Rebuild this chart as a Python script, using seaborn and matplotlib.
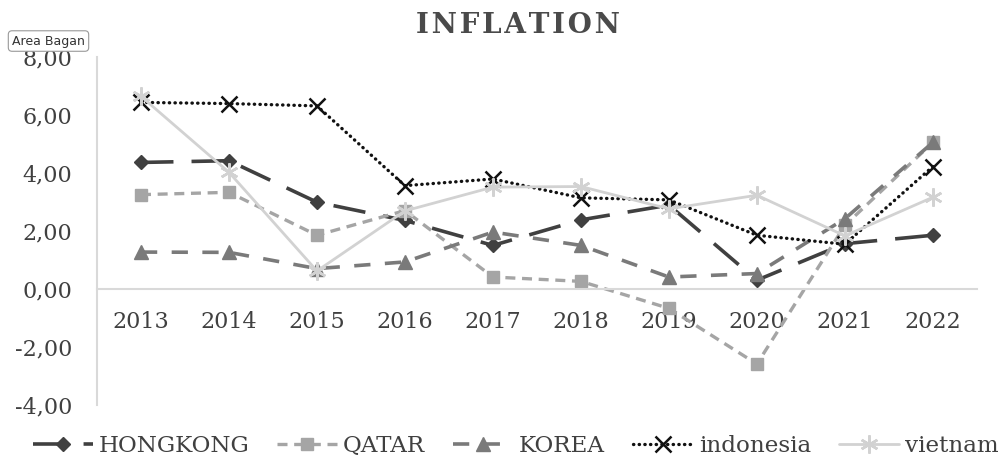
import numpy as np
import pandas as pd
import matplotlib
matplotlib.use("Agg")
import matplotlib.pyplot as plt
import seaborn as sns
from matplotlib.ticker import FuncFormatter

# ─── Data ─────────────────────────────────────────────────────────────────────
years = [2013, 2014, 2015, 2016, 2017, 2018, 2019, 2020, 2021, 2022]
hongkong = [4.37, 4.43, 3.00, 2.37, 1.51, 2.39, 2.90, 0.31, 1.57, 1.86]
qatar = [3.26, 3.34, 1.86, 2.71, 0.42, 0.27, -0.66, -2.58, 2.20, 5.06]
korea = [1.28, 1.27, 0.71, 0.94, 1.97, 1.51, 0.42, 0.54, 2.43, 5.06]
indonesia = [6.44, 6.40, 6.32, 3.57, 3.80, 3.15, 3.08, 1.86, 1.55, 4.23]
vietnam = [6.65, 4.03, 0.63, 2.70, 3.52, 3.54, 2.77, 3.24, 1.84, 3.17]

series_names = ["HONGKONG", "QATAR", "KOREA", "indonesia", "vietnam"]
series_values = [hongkong, qatar, korea, indonesia, vietnam]

# ─── Styles ───────────────────────────────────────────────────────────────────
styles = {
    "HONGKONG": dict(color="#404040", marker="D", ms=7, lw=2.6, dashes=(9, 5)),
    "QATAR": dict(color="#a5a5a5", marker="s", ms=9, lw=2.4, dashes=(3, 2)),
    "KOREA": dict(color="#7a7a7a", marker="^", ms=10, lw=2.6, dashes=(4.5, 4)),
    "indonesia": dict(color="#111111", marker="x", ms=11, lw=2.4, dashes=(0.1, 1.6)),
    "vietnam": dict(color="#d2d2d2", marker=(6, 2, 0), ms=13, lw=2.0, dashes=None),
}

df = pd.DataFrame(
    [(y, name, v) for name, vals in zip(series_names, series_values)
     for y, v in zip(years, vals)],
    columns=["year", "country", "value"],
)

sns.set_theme(style="white")
plt.rcParams["font.family"] = ["DejaVu Serif"]

fig = plt.figure(figsize=(10.05, 4.61), dpi=100)
ax = fig.add_axes([0.0965, 0.121, 0.8755, 0.755])

for name in series_names:
    st = styles[name]
    sub = df[df["country"] == name]
    sns.lineplot(data=sub, x="year", y="value", ax=ax, color=st["color"],
                 marker=st["marker"], markersize=st["ms"], linewidth=st["lw"],
                 markeredgecolor=st["color"], markerfacecolor=st["color"],
                 markeredgewidth=1.8 if name in ("indonesia", "vietnam") else 1,
                 label=name)
    line = ax.get_lines()[-1]
    if st["dashes"] is not None:
        line.set_dashes(st["dashes"])
        if name == "indonesia":
            line.set_dash_capstyle("round")

ax.set_xlim(2012.5, 2022.5)
ax.set_ylim(-4, 8)
ax.set_yticks(np.arange(-4, 9, 2))
ax.set_xticks(years)
ax.yaxis.set_major_formatter(FuncFormatter(lambda v, p: f"{v:.2f}".replace(".", ",")))
ax.set_xlabel("")
ax.set_ylabel("")

for s in ["top", "right"]:
    ax.spines[s].set_visible(False)
ax.spines["bottom"].set_position(("data", 0))
ax.spines["bottom"].set_color("#d9d9d9")
ax.spines["left"].set_color("#d9d9d9")
ax.spines["bottom"].set_linewidth(1.5)
ax.spines["left"].set_linewidth(1.5)
ax.tick_params(axis="both", length=0, labelsize=16, colors="#404040")
ax.tick_params(axis="x", pad=16)
ax.tick_params(axis="y", pad=18)

# title is letter-spaced in the reference: hair spaces between letters
fig.text(0.515, 0.945, "\u200a".join("INFLATION"), ha="center", va="center",
         fontsize=20, fontweight="bold", color="#4a4a4a")
fig.text(0.012, 0.911, "Area Bagan", ha="left", va="center", fontsize=9,
         family="DejaVu Sans", color="#333333",
         bbox=dict(boxstyle="round,pad=0.3", fc="white", ec="#999999", lw=0.8))

handles, labels = ax.get_legend_handles_labels()
ax.legend(handles, labels, loc="center", bbox_to_anchor=(0.513, 0.033),
          bbox_transform=fig.transFigure, ncol=5, frameon=False, fontsize=16.6,
          handlelength=2.6, columnspacing=1.22, handletextpad=0.25,
          labelcolor="#404040")

fig.savefig("out.png", dpi=100)
